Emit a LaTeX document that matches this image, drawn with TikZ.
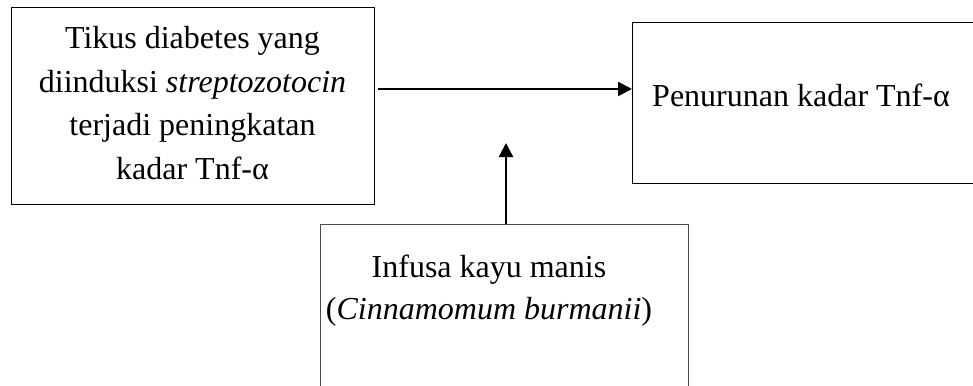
\documentclass[tikz,border=0pt]{standalone}
\usepackage{fontspec}
\setmainfont{Liberation Serif}
\usetikzlibrary{arrows.meta}
\begin{document}
\begin{tikzpicture}[x=1pt,y=-1pt,
  box/.style={draw, line width=1.1pt, inner sep=0pt, anchor=north west},
  txt/.style={align=center, font=\fontsize{32}{43.5}\selectfont, inner sep=0pt},
  arr/.style={-{Triangle[length=14pt,width=14pt]}, line width=2.2pt}]
\useasboundingbox (0,0) rectangle (973,385);
\clip (0,0) rectangle (973,385);
\node[box, minimum width=363pt, minimum height=197pt] (b1) at (11,7) {};
\node[box, minimum width=400pt, minimum height=161pt] (b2) at (632,22) {};
\node[box, draw=black!70, minimum width=368pt, minimum height=220pt] (b3) at (320,224) {};
\node[txt] (t1) at (192.5,103) {Tikus diabetes yang\\diinduksi \textit{streptozotocin}\\terjadi peningkatan\\kadar Tnf-α};
\node[txt] (t2) at (801,95) {Penurunan kadar Tnf-α};
\node[txt, font=\fontsize{32}{42}\selectfont] (t3) at (489,291) {Infusa kayu manis\\(\textit{Cinnamomum burmanii})};
\coordinate (h) at (0,89);
\coordinate (v) at (506,143);
\draw[arr] ([xshift=3pt]b1.east |- h) -- (b2.west |- h);
\draw[arr] (v |- b3.north) -- (v);
\end{tikzpicture}
\end{document}
